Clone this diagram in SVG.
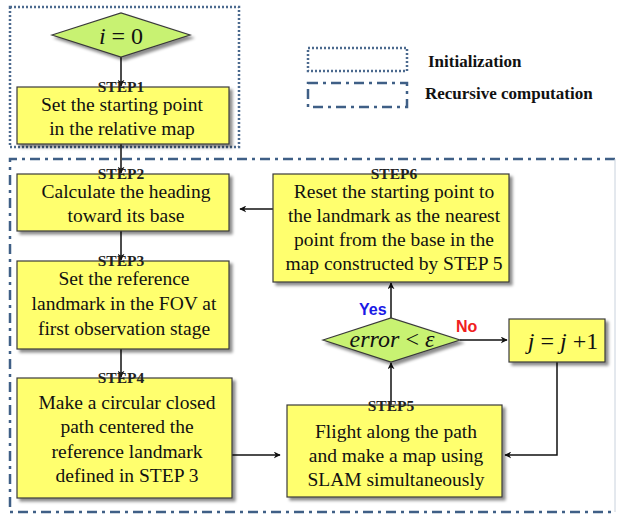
<svg xmlns="http://www.w3.org/2000/svg" width="617" height="517" viewBox="0 0 617 517">
  <defs>
    <filter id="shadow" x="-10%" y="-10%" width="130%" height="140%">
      <feDropShadow dx="3" dy="3" stdDeviation="1.5" flood-color="#000" flood-opacity="0.45"/>
    </filter>
    <marker id="arrow" viewBox="0 0 10 10" refX="9" refY="5" markerWidth="7" markerHeight="7" orient="auto" markerUnits="userSpaceOnUse">
      <path d="M0,0 L10,5 L0,10 L3,5 Z" fill="#111"/>
    </marker>
    <style>
      .box { fill: #FFFF6E; stroke: #3a3a3a; stroke-width: 1.2; filter: url(#shadow); }
      .dia { fill: #C8F272; stroke: #3a3a3a; stroke-width: 1.2; filter: url(#shadow); }
      .txt { font-family: "Liberation Serif", "Times New Roman", serif; font-size: 19.5px; fill: #111; text-anchor: middle; }
      .step { font-family: "Liberation Serif", "Times New Roman", serif; font-size: 15.5px; font-weight: bold; fill: #222; text-anchor: middle; word-spacing: -3px; }
      .math { font-family: "Liberation Serif", "Times New Roman", serif; font-size: 24px; fill: #111; text-anchor: middle; }
      .legend { font-family: "Liberation Serif", "Times New Roman", serif; font-size: 17px; font-weight: bold; fill: #111; }
      .lbl { font-family: "Liberation Sans", Arial, sans-serif; font-size: 16px; font-weight: bold; }
      .conn { stroke: #111; stroke-width: 1.5; fill: none; }
      .dotted { fill: none; stroke: #4C6A8E; stroke-width: 2.5; stroke-dasharray: 2 2; }
      .dashdot { fill: none; stroke: #3F5F86; stroke-width: 2.5; stroke-dasharray: 10 5 3 5; }
    </style>
  </defs>

  <!-- group frames -->
  <g id="frames">
    <rect class="dotted" x="10" y="7" width="229" height="140"/>
    <path class="dashdot" d="M615,159 L10,159 L10,512 L615,512"/>
    <line x1="615" y1="159" x2="615" y2="512" stroke="#C9D2DD" stroke-width="1"/>
  </g>

  <!-- legend -->
  <g id="legend">
    <rect class="dotted" x="308" y="48" width="99" height="23"/>
    <text class="legend" x="428" y="67">Initialization</text>
    <rect class="dashdot" x="308" y="83" width="99" height="24"/>
    <text class="legend" x="425" y="99">Recursive computation</text>
  </g>

  <!-- connectors -->
  <g id="connectors">
    <line class="conn" x1="121" y1="57" x2="121" y2="86" marker-end="url(#arrow)"/>
    <line class="conn" x1="121" y1="144" x2="121" y2="173" marker-end="url(#arrow)"/>
    <line class="conn" x1="121" y1="231" x2="121" y2="260" marker-end="url(#arrow)"/>
    <line class="conn" x1="121" y1="349" x2="121" y2="377" marker-end="url(#arrow)"/>
    <line class="conn" x1="232" y1="455" x2="280" y2="455" marker-end="url(#arrow)"/>
    <line class="conn" x1="391" y1="405" x2="391" y2="363" marker-end="url(#arrow)"/>
    <line class="conn" x1="391" y1="318" x2="391" y2="283" marker-end="url(#arrow)"/>
    <line class="conn" x1="460" y1="340" x2="507" y2="340" marker-end="url(#arrow)"/>
    <polyline class="conn" points="557,362 557,455 505,455" marker-end="url(#arrow)"/>
    <line class="conn" x1="273" y1="209" x2="240" y2="209" marker-end="url(#arrow)"/>
  </g>

  <!-- i = 0 -->
  <g id="init">
    <polygon class="dia" points="52,35 121,13 190,35 121,57"/>
    <text class="math" x="121" y="44"><tspan font-style="italic">i</tspan> = 0</text>
  </g>

  <g id="step1">
    <rect class="box" x="17" y="87" width="212" height="57"/>
    <text class="step" x="121" y="92">STEP 1</text>
    <text class="txt" x="122" y="111">Set the starting point</text>
    <text class="txt" x="122" y="135">in the relative map</text>
  </g>

  <g id="step2">
    <rect class="box" x="17" y="174" width="212" height="57"/>
    <text class="step" x="121" y="179">STEP 2</text>
    <text class="txt" x="126" y="198">Calculate the heading</text>
    <text class="txt" x="126" y="222">toward its base</text>
  </g>

  <g id="step3">
    <rect class="box" x="17" y="261" width="212" height="88"/>
    <text class="step" x="121" y="266">STEP 3</text>
    <text class="txt" x="124" y="285">Set the reference</text>
    <text class="txt" x="124" y="310">landmark in the FOV at</text>
    <text class="txt" x="124" y="335">first observation stage</text>
  </g>

  <g id="step4">
    <rect class="box" x="17" y="378" width="215" height="120"/>
    <text class="step" x="121" y="383">STEP 4</text>
    <text class="txt" x="127" y="409">Make a circular closed</text>
    <text class="txt" x="127" y="433">path centered the</text>
    <text class="txt" x="127" y="458">reference landmark</text>
    <text class="txt" x="127" y="482">defined in STEP 3</text>
  </g>

  <g id="step5">
    <rect class="box" x="287" y="405" width="215" height="92"/>
    <text class="step" x="391" y="411">STEP 5</text>
    <text class="txt" x="396" y="438">Flight along the path</text>
    <text class="txt" x="396" y="462">and make a map using</text>
    <text class="txt" x="396" y="486">SLAM simultaneously</text>
  </g>

  <g id="decision">
    <polygon class="dia" points="323,340 391,318 460,340 391,362"/>
    <text class="math" x="392" y="347" font-size="21"><tspan font-style="italic">error</tspan> &lt; <tspan font-style="italic">ε</tspan></text>
    <text class="lbl" x="359" y="315" fill="#1A1AE6">Yes</text>
    <text class="lbl" x="456" y="332" fill="#F02020">No</text>
  </g>

  <g id="counter">
    <rect class="box" x="509" y="319" width="96" height="43"/>
    <text class="math" x="563" y="349" font-size="23"><tspan font-style="italic">j</tspan> = <tspan font-style="italic">j</tspan> +1</text>
  </g>

  <g id="step6">
    <rect class="box" x="273" y="174" width="236" height="108"/>
    <text class="step" x="394" y="179">STEP 6</text>
    <text class="txt" x="394" y="198">Reset the starting point to</text>
    <text class="txt" x="394" y="222">the landmark as the nearest</text>
    <text class="txt" x="394" y="246">point from the base in the</text>
    <text class="txt" x="394" y="270">map constructed by STEP 5</text>
  </g>
</svg>
